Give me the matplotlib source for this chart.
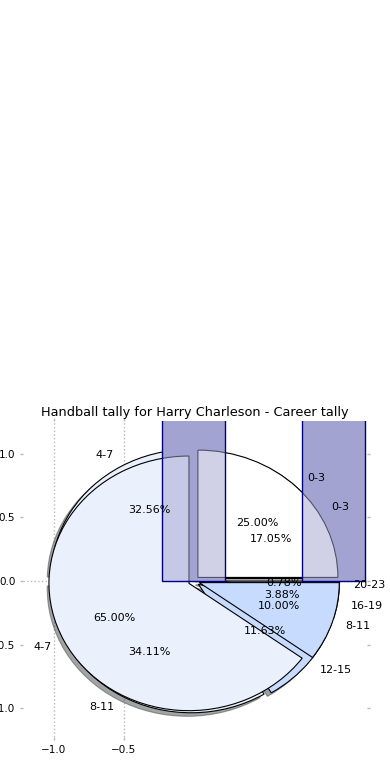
import matplotlib
matplotlib.use('Agg')
import matplotlib.pyplot as plt
from matplotlib.colors import to_rgba

# ---- data ----
categories_a = ['0-3', '4-7', '8-11', '12-15', '16-19', '20-23']
tally_a = [22, 42, 44, 15, 5, 1]
categories_b = ['0-3', '4-7', '8-11']
tally_b = [5, 13, 2]
bar_x = [0, 1]
bar_heights = [22, 42]          # bars run off the top of the plot
x_ticks = [-1.0, -0.5]
y_ticks = [-1.0, -0.5, 0.0, 0.5, 1.0]
title = 'Handball tally for Harry Charleson - Career tally'

# ---- style ----
WHITE = '#ffffff'
PALE = '#eaf1fd'
LIGHT = '#c6dbfe'
BAR = '#a3a3d1'
colors_a = [WHITE, PALE, PALE, LIGHT, LIGHT, LIGHT]
colors_b = [WHITE, PALE, LIGHT]
GRID = '#b8b8b8'

fig = plt.figure(figsize=(3.9, 7.8), dpi=100)
ax = fig.add_axes([23 / 390, 1 - 737 / 780, 343.7 / 390, 316 / 780])

# lower pie (with shadow)
ax.pie(tally_a, labels=categories_a, colors=colors_a,
       explode=[0.04] * len(tally_a), shadow=True, autopct='%.2f%%',
       wedgeprops=dict(edgecolor='black', linewidth=0.8),
       textprops=dict(fontsize=8), frame=True)

# bars, solid layer under the upper pie
ax.bar(bar_x, bar_heights, width=0.45, color=BAR, linewidth=0, zorder=1.5)

# upper pie
ax.pie(tally_b, labels=categories_b, colors=colors_b,
       explode=[0.04] * len(tally_b), autopct='%.2f%%',
       wedgeprops=dict(edgecolor='black', linewidth=0.8, zorder=2),
       textprops=dict(fontsize=8), frame=True)

# bars, translucent layer over the upper pie
ax.bar(bar_x, bar_heights, width=0.45, color=to_rgba(BAR, 0.5),
       edgecolor='navy', linewidth=1.0, zorder=2.5)

ax.set_aspect('auto')
ax.set_xlim(-1.221, 1.234)
ax.set_ylim(-1.225, 1.257)
ax.set_xticks(x_ticks)
ax.set_yticks(y_ticks)
ax.tick_params(axis='both', direction='out', length=2.5, width=1, pad=3,
               color=GRID, labelsize=7.5, top=True, right=True,
               labeltop=False, labelright=False)
for s in ax.spines.values():
    s.set_visible(False)
ax.grid(axis='x', linestyle=':', color=GRID, linewidth=1)
ax.axhline(0, linestyle=':', color=GRID, linewidth=1, zorder=0)
ax.set_axisbelow(True)
ax.set_title(title, fontsize=9.3, pad=3.5)

fig.savefig('out.png', dpi=100)
